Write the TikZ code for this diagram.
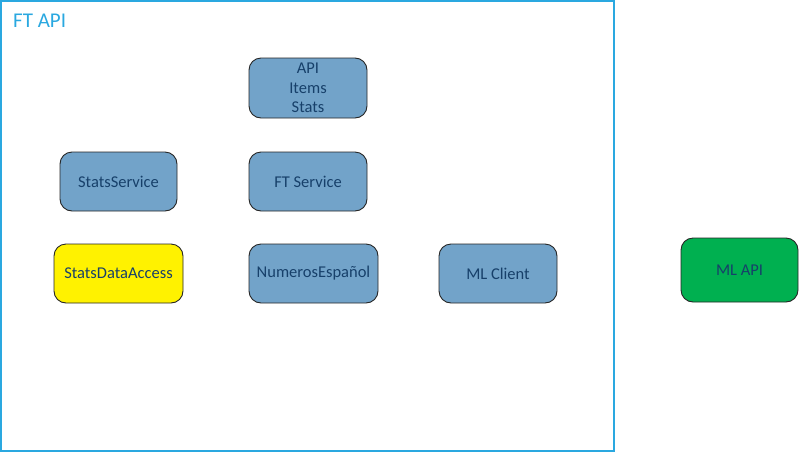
\documentclass[tikz,border=0pt]{standalone}
\usepackage{fontspec}
\setmainfont{Carlito}
\definecolor{frameblue}{HTML}{2AA8E0}
\definecolor{boxblue}{HTML}{72A3C9}
\definecolor{txtblue}{HTML}{17406A}
\definecolor{mlgreen}{HTML}{00B050}
\begin{document}
\begin{tikzpicture}[x=1pt,y=-1pt,
  comp/.style={draw=black!85,line width=0.9pt,rounded corners=12pt,fill=boxblue,
    minimum height=59pt,inner sep=0pt,align=center,text=txtblue,
    font=\fontsize{16.5}{19.5}\selectfont}]
\useasboundingbox (0,0) rectangle (800,453);
\node[draw=frameblue,line width=2pt,minimum width=613pt,minimum height=450pt,inner sep=0pt] (ftapi) at (307.5,226) {};
\node[anchor=north west,text=frameblue,font=\fontsize{21}{25}\selectfont,inner sep=0pt] (title) at (13,14) {FT API};
\node[comp,minimum width=118pt,minimum height=60pt] (api) at (308,88) {API\\Items\\Stats};
\node[comp,minimum width=117pt] (statsservice) at (118.5,181.5) {StatsService};
\node[comp,minimum width=118pt] (ftservice) at (308,181.5) {FT Service};
\node[comp,minimum width=129pt,fill=yellow] (statsdata) at (118.5,273.5) {StatsDataAccess};
\node[comp,minimum width=129pt] (numeros) at (313.5,273.5) {NumerosEspañol};
\node[comp,minimum width=118pt] (mlclient) at (498,273.5) {ML Client};
\node[comp,minimum width=117pt,minimum height=64pt,fill=mlgreen] (mlapi) at (739.5,270) {ML API};
\end{tikzpicture}
\end{document}
